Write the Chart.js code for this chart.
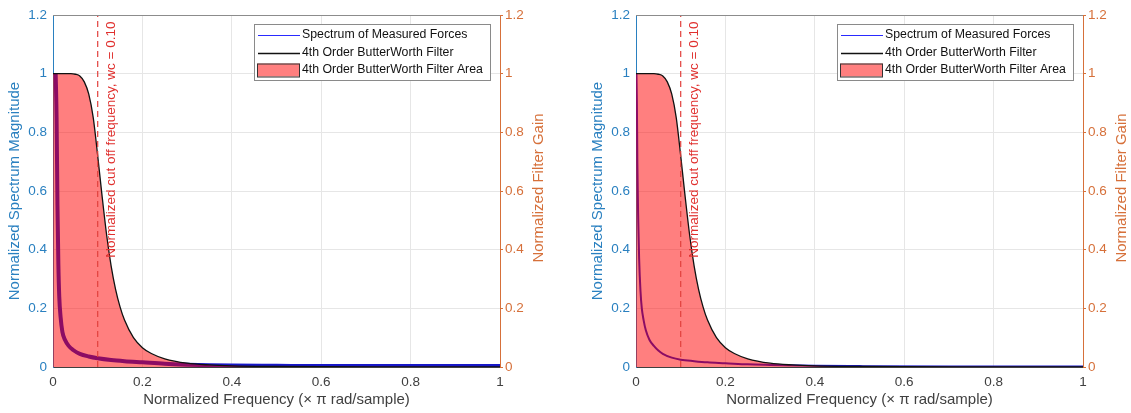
<!DOCTYPE html>
<html>
<head>
<meta charset="utf-8">
<script src="https://cdn.jsdelivr.net/npm/chart.js@4.4.1/dist/chart.umd.min.js"></script>
<style>
  html, body { margin: 0; padding: 0; background: #fff; overflow: hidden; }
  .panel { position: absolute; top: 0; }
</style>
</head>
<body>
<div class="panel" style="left:0px"><canvas id="leftChart" width="548" height="413"></canvas></div>
<div class="panel" style="left:583px"><canvas id="rightChart" width="548" height="413"></canvas></div>
<script>
// Butterworth filter response (same in both panels)
const filterFreq = [0, 0.01, 0.02, 0.03, 0.04, 0.05, 0.06, 0.07, 0.08, 0.09, 0.1, 0.11, 0.12, 0.13, 0.14, 0.15, 0.16, 0.18, 0.2, 0.22, 0.25, 0.3, 0.35, 0.4, 0.5, 0.6, 0.8, 1.0];
const filterGain = [1, 1, 1, 1, 1, 0.998, 0.992, 0.972, 0.93, 0.85, 0.72, 0.58, 0.45, 0.345, 0.265, 0.205, 0.16, 0.1, 0.066, 0.046, 0.028, 0.013, 0.007, 0.004, 0.002, 0.001, 0.0005, 0.0003];

// measured force spectra
const leftSpecFreq = [0.006, 0.008, 0.010, 0.012, 0.014, 0.017, 0.021, 0.027, 0.035, 0.045, 0.06, 0.08, 0.1, 0.13, 0.16, 0.2, 0.25, 0.3, 0.35, 0.4, 0.5, 0.6, 0.8, 1.0];
const leftSpecMag = [1.0, 0.85, 0.55, 0.35, 0.24, 0.17, 0.12, 0.092, 0.072, 0.058, 0.045, 0.036, 0.030, 0.024, 0.02, 0.016, 0.011, 0.008, 0.006, 0.005, 0.004, 0.003, 0.003, 0.003];
const rightSpecFreq = [0.001, 0.002, 0.003, 0.005, 0.007, 0.01, 0.013, 0.017, 0.022, 0.03, 0.04, 0.05, 0.06, 0.08, 0.1, 0.13, 0.16, 0.2, 0.25, 0.3, 0.4, 0.5, 0.7, 1.0];
const rightSpecMag = [1.0, 0.9, 0.7, 0.5, 0.37, 0.26, 0.2, 0.16, 0.125, 0.093, 0.072, 0.056, 0.045, 0.032, 0.025, 0.02, 0.016, 0.013, 0.009, 0.007, 0.004, 0.003, 0.002, 0.002];

const cutoff = 0.10;
const cutoffLabel = 'Normalized cut off frequency, wc = 0.10';
const seriesNames = ['Spectrum of Measured Forces', '4th Order ButterWorth Filter', '4th Order ButterWorth Filter Area'];
const gainTitle = 'Normalized Filter Gain';

const BLUE = '#2a80c0';
const ORANGE = '#d6703a';
const GRID = '#e6e6e6';
const DARK = '#404040';
const FONT = '"Liberation Sans", Arial, sans-serif';

Chart.defaults.font.family = FONT;
Chart.defaults.animation = false;

const pts = (xs, ys) => xs.map((x, i) => ({x: x, y: ys[i]}));
const fmt = v => String(+v.toFixed(2));

// top border, right axis title, cut-off label and the legend box inside the plot
const panelDecor = {
  id: 'panelDecor',
  afterDraw(chart) {
    const {ctx, chartArea: a, scales} = chart;
    ctx.save();
    ctx.strokeStyle = '#8c8c8c';
    ctx.lineWidth = 1;
    ctx.beginPath();
    ctx.moveTo(a.left, a.top + 0.5);
    ctx.lineTo(a.right, a.top + 0.5);
    ctx.stroke();
    ctx.restore();

    // right axis title, reading upwards like the left one
    ctx.save();
    ctx.translate(a.right + 39, (a.top + a.bottom) / 2 - 3);
    ctx.rotate(-Math.PI / 2);
    ctx.font = '15px ' + FONT;
    ctx.fillStyle = ORANGE;
    ctx.textAlign = 'center';
    ctx.textBaseline = 'middle';
    ctx.fillText(gainTitle, 0, 0);
    ctx.restore();

    // rotated label next to the dashed line
    ctx.save();
    const lx = scales.x.getPixelForValue(cutoff) + 14;
    const ly = scales.y.getPixelForValue(0.775);
    ctx.translate(lx, ly);
    ctx.rotate(-Math.PI / 2);
    ctx.font = '13.5px ' + FONT;
    ctx.fillStyle = '#e0302e';
    ctx.textAlign = 'center';
    ctx.textBaseline = 'middle';
    ctx.fillText(cutoffLabel, 0, 0);
    ctx.restore();

    // legend
    const w = 236, h = 56;
    const bx = a.right - 10 - w, by = a.top + 9;
    ctx.save();
    ctx.fillStyle = '#fff';
    ctx.fillRect(bx, by, w, h);
    ctx.strokeStyle = '#8a8a8a';
    ctx.lineWidth = 1;
    ctx.strokeRect(bx + 0.5, by + 0.5, w, h);
    ctx.font = '12.3px ' + FONT;
    ctx.textBaseline = 'middle';
    const rows = [by + 11, by + 28.5, by + 46];
    const ds = chart.data.datasets;
    for (let i = 0; i < 3; i++) {
      const ry = rows[i];
      if (i < 2) {
        ctx.strokeStyle = i === 0 ? '#2a2aff' : '#111';
        ctx.lineWidth = i === 0 ? 1.2 : 1.6;
        ctx.beginPath();
        ctx.moveTo(bx + 4, Math.round(ry) + 0.5);
        ctx.lineTo(bx + 46, Math.round(ry) + 0.5);
        ctx.stroke();
      } else {
        ctx.fillStyle = ds[2].backgroundColor;
        ctx.fillRect(bx + 3, ry - 6.5, 43, 13);
        ctx.strokeStyle = '#333';
        ctx.lineWidth = 1;
        ctx.strokeRect(bx + 3.5, ry - 6, 42, 13);
      }
      ctx.fillStyle = '#111';
      ctx.fillText(ds[i].label, bx + 48, ry);
    }
    ctx.restore();
  }
};

function makePanel(id, specFreq, specMag, specWidth) {
  const filterPts = pts(filterFreq, filterGain);
  return new Chart(document.getElementById(id), {
    type: 'line',
    data: {
      datasets: [
        {
          label: seriesNames[0],
          data: pts(specFreq, specMag),
          yAxisID: 'y',
          borderColor: '#1818c8',
          borderWidth: specWidth,
          pointRadius: 0,
          cubicInterpolationMode: 'monotone',
          order: 3
        },
        {
          label: seriesNames[1],
          data: filterPts,
          yAxisID: 'y2',
          borderColor: '#111',
          borderWidth: 1.3,
          pointRadius: 0,
          cubicInterpolationMode: 'monotone',
          order: 1
        },
        {
          label: seriesNames[2],
          data: filterPts,
          yAxisID: 'y2',
          borderWidth: 0,
          backgroundColor: 'rgba(255, 0, 0, 0.5)',
          fill: 'origin',
          pointRadius: 0,
          cubicInterpolationMode: 'monotone',
          order: 2
        },
        {
          label: 'cutoff',
          data: [{x: cutoff, y: 0}, {x: cutoff, y: 1.2}],
          yAxisID: 'y',
          borderColor: '#e2403c',
          borderWidth: 1.2,
          borderDash: [6, 4],
          pointRadius: 0,
          order: 0
        }
      ]
    },
    options: {
      responsive: false,
      layout: { padding: { top: 15, left: 0, right: 0, bottom: 0 } },
      plugins: { legend: { display: false }, tooltip: { enabled: false } },
      scales: {
        x: {
          type: 'linear',
          min: 0, max: 1,
          ticks: { stepSize: 0.2, color: DARK, padding: 7, font: { size: 13.5 }, callback: fmt, maxRotation: 0 },
          grid: { color: GRID, drawTicks: false },
          border: { color: DARK },
          title: { display: true, text: 'Normalized Frequency (× π rad/sample)', color: DARK, font: { size: 15 }, padding: { top: 0, bottom: 4 } },
          afterFit(s) { s.height = 46; }
        },
        y: {
          position: 'left',
          min: 0, max: 1.2,
          ticks: { stepSize: 0.2, color: BLUE, padding: 6, font: { size: 13.5 }, callback: fmt },
          grid: { color: GRID, drawTicks: false },
          border: { color: BLUE },
          title: { display: true, text: 'Normalized Spectrum Magnitude', color: BLUE, font: { size: 15 }, padding: { top: 6, bottom: 0 } },
          afterFit(s) { s.width = 53; }
        },
        y2: {
          position: 'right',
          min: 0, max: 1.2,
          ticks: { stepSize: 0.2, color: ORANGE, padding: 2, font: { size: 13.5 }, callback: fmt },
          grid: { drawOnChartArea: false, color: ORANGE, tickLength: 3 },
          border: { color: ORANGE },
          title: { display: false },
          afterFit(s) { s.width = 48; }
        }
      }
    },
    plugins: [panelDecor]
  });
}

makePanel('leftChart', leftSpecFreq, leftSpecMag, 4);
makePanel('rightChart', rightSpecFreq, rightSpecMag, 2);
</script>
</body>
</html>
